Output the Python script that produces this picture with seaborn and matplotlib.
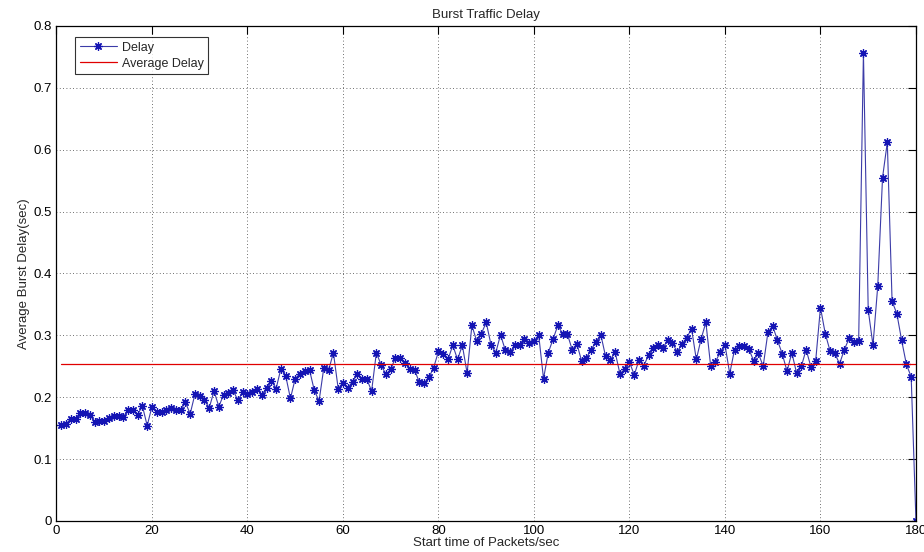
import matplotlib
matplotlib.use("Agg")
import matplotlib.pyplot as plt
import seaborn as sns
import pandas as pd

# ---- data ----
start_time = list(range(1, 181))
delay = [
    0.155, 0.157, 0.165, 0.165, 0.174, 0.175, 0.172, 0.160, 0.161, 0.161,
    0.166, 0.170, 0.169, 0.168, 0.179, 0.180, 0.172, 0.186, 0.154, 0.185,
    0.176, 0.176, 0.179, 0.182, 0.180, 0.179, 0.192, 0.173, 0.205, 0.202,
    0.195, 0.183, 0.210, 0.185, 0.204, 0.207, 0.211, 0.195, 0.208, 0.205,
    0.208, 0.214, 0.204, 0.215, 0.227, 0.214, 0.246, 0.235, 0.198, 0.230,
    0.238, 0.242, 0.244, 0.211, 0.194, 0.248, 0.244, 0.272, 0.214, 0.223,
    0.215, 0.225, 0.237, 0.229, 0.229, 0.210, 0.272, 0.252, 0.237, 0.245,
    0.264, 0.264, 0.256, 0.246, 0.244, 0.224, 0.223, 0.232, 0.248, 0.274,
    0.270, 0.261, 0.284, 0.261, 0.284, 0.239, 0.316, 0.291, 0.303, 0.321,
    0.285, 0.272, 0.301, 0.276, 0.273, 0.284, 0.284, 0.294, 0.287, 0.291,
    0.300, 0.230, 0.272, 0.294, 0.316, 0.303, 0.302, 0.277, 0.286, 0.258,
    0.264, 0.277, 0.290, 0.301, 0.266, 0.260, 0.273, 0.238, 0.245, 0.257,
    0.236, 0.260, 0.251, 0.268, 0.280, 0.284, 0.279, 0.293, 0.288, 0.273,
    0.286, 0.296, 0.311, 0.261, 0.294, 0.321, 0.251, 0.257, 0.273, 0.285,
    0.238, 0.277, 0.282, 0.282, 0.278, 0.259, 0.271, 0.250, 0.305, 0.315,
    0.292, 0.270, 0.242, 0.272, 0.239, 0.250, 0.277, 0.249, 0.259, 0.345,
    0.303, 0.275, 0.271, 0.254, 0.277, 0.295, 0.289, 0.291, 0.757, 0.341,
    0.284, 0.380, 0.555, 0.612, 0.355, 0.335, 0.292, 0.253, 0.233, 0.000,
]
average_delay = 0.2535
x_ticks = [0, 20, 40, 60, 80, 100, 120, 140, 160, 180]
y_ticks = [0, 0.1, 0.2, 0.3, 0.4, 0.5, 0.6, 0.7, 0.8]
y_tick_labels = ["0", "0.1", "0.2", "0.3", "0.4", "0.5", "0.6", "0.7", "0.8"]

df = pd.DataFrame({"t": start_time, "Delay": delay,
                   "Average Delay": [average_delay] * len(start_time)})

sns.set_style("white")
plt.rcParams["font.family"] = ["Liberation Sans", "DejaVu Sans"]

fig = plt.figure(figsize=(9.24, 5.52), dpi=100)
ax = fig.add_axes([0.0611, 0.0562, 0.9302, 0.8967])

blue = "#1414b4"
sns.lineplot(data=df, x="t", y="Delay", ax=ax, color="#3c3ca8", linewidth=0.8,
             marker=(8, 2, 0), markersize=6, markeredgewidth=0.9,
             markeredgecolor=blue, markerfacecolor=blue, label="Delay")
sns.lineplot(data=df, x="t", y="Average Delay", ax=ax, color="#e00000",
             linewidth=0.9, label="Average Delay")

ax.set_xlim(0, 180)
ax.set_ylim(0, 0.8)
ax.set_xticks(x_ticks)
ax.set_xticklabels([str(v) for v in x_ticks])
ax.set_yticks(y_ticks)
ax.set_yticklabels(y_tick_labels)

ax.grid(True, color="#404040", linestyle=(0, (1, 3)), linewidth=0.6)
for s in ax.spines.values():
    s.set_color("black")
    s.set_linewidth(0.9)
ax.tick_params(direction="in", length=6, width=0.8, top=True, right=True,
               labelsize=9.5, pad=3, colors="black")

ax.set_title("Burst Traffic Delay", fontsize=9.5, pad=6)
ax.set_xlabel("Start time of Packets/sec", fontsize=9.5, labelpad=0)
ax.set_ylabel("Average Burst Delay(sec)", fontsize=9.5, labelpad=3)

leg = ax.legend(loc="upper left", bbox_to_anchor=(0.022, 0.977), frameon=True,
                fancybox=False, edgecolor="black", fontsize=9,
                handlelength=3.0, borderpad=0.35, labelspacing=0.3,
                handletextpad=0.4, borderaxespad=0.0)
leg.get_frame().set_linewidth(0.8)

fig.savefig("out.png", dpi=100, facecolor="white")
